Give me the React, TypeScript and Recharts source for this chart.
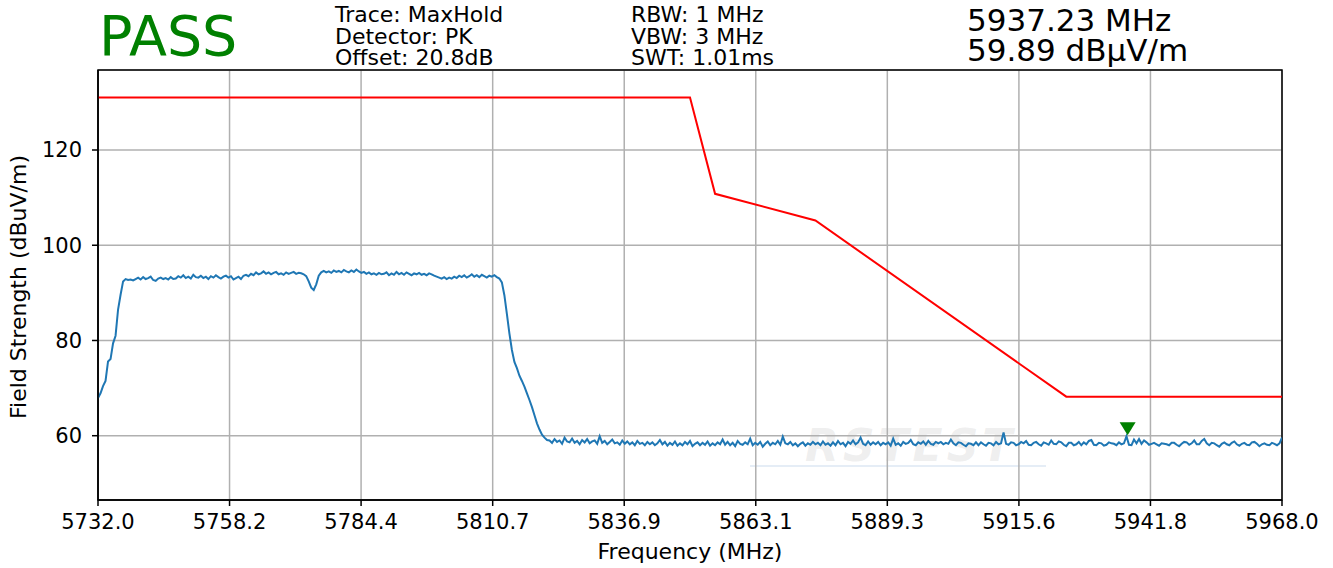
import React from 'react';
import { LineChart, Line, XAxis, YAxis, CartesianGrid, ReferenceArea, ReferenceDot } from 'recharts';

// sweep start / step of the analyser trace (MHz)
const SWEEP_START = 5732;
const SWEEP_STEP = 0.5;

// measured level, one value per sweep point (dBuV/m)
const traceLevels = [
    // rise
    67.9, 68.9, 70.4, 71.5, 75.6, 76.1, 79.4, 81.0, 86.5, 89.6, 92.4,
    // in-band plateau
    92.9, 92.7, 92.8, 92.6, 92.9, 93.2, 92.8, 93.3, 92.9, 93.1,
    93.4, 92.7, 92.5, 93.0, 93.2, 92.9, 93.1, 92.8, 93.3, 92.9,
    93.0, 93.5, 93.2, 93.7, 93.1, 93.4, 93.0, 93.8, 93.3, 93.2,
    93.6, 93.1, 93.4, 92.9, 93.5, 93.2, 93.7, 93.3, 93.0, 93.4,
    93.6, 93.2, 93.5, 92.8, 93.1, 93.4, 92.9, 93.6, 93.8, 93.5,
    94.0, 93.7, 94.3, 93.9, 94.1, 94.5, 94.0, 94.3, 93.9, 94.2,
    94.4, 93.9, 94.1, 93.8, 94.3, 94.0, 94.2, 94.4, 94.0, 94.2,
    94.1, 93.9, 93.5, 92.4, 91.1, 90.6, 91.8, 93.6, 94.3, 94.6,
    94.3, 94.5, 94.2, 94.7, 94.4, 94.6, 94.3, 94.8, 94.5, 94.3,
    94.7, 94.4, 94.9, 94.5, 94.2, 94.4, 94.0, 94.3, 93.9, 94.1,
    93.8, 94.2, 93.9, 94.0, 94.3, 93.7, 94.1, 93.8, 94.4, 93.9,
    94.2, 93.8, 94.3, 94.0, 93.7, 94.1, 93.9, 94.2, 93.8, 94.0,
    93.7, 94.1, 93.9, 93.6, 93.4, 93.2, 93.0, 93.3, 92.9, 93.2,
    93.0, 93.4, 93.1, 93.6, 93.3, 93.7, 93.2, 93.5, 93.9, 93.4,
    93.7, 93.3, 93.8, 93.5, 93.2, 93.6, 93.4, 93.7, 93.3,
    // band edge roll-off
    93.0, 92.2, 89.5, 85.6, 81.5, 78.0, 75.5, 74.2, 72.6, 71.5,
    70.3, 68.9, 67.5, 66.0, 64.3, 62.6, 61.3, 60.2, 59.6, 59.1, 59.0,
    // noise floor
    58.5, 59.3, 58.7, 59.0, 58.3, 59.6, 58.8, 58.6, 59.4, 58.5,
    58.9, 58.2, 59.1, 58.6, 59.3, 58.4, 58.8, 59.0, 58.3, 59.9,
    58.5, 58.9, 58.2, 58.7, 59.2, 58.4, 58.6, 58.1, 59.0, 58.3,
    58.8, 58.2, 58.6, 58.0, 58.9, 58.3, 58.5, 58.0, 58.7, 58.2,
    58.6, 58.0, 58.4, 59.1, 58.2, 58.7, 57.9, 58.5, 58.1, 58.8,
    57.9, 58.4, 58.0, 58.7, 58.2, 58.9, 57.8, 58.3, 58.6, 58.0,
    58.5, 58.1, 58.8, 57.9, 58.4, 58.0, 58.6, 58.2, 59.2, 58.1,
    58.7, 58.0, 58.5, 57.8, 58.9, 58.3, 58.1, 58.6, 58.2, 59.4,
    58.0, 58.5, 58.1, 58.7, 57.7, 58.3, 58.8, 58.0, 58.5, 58.2,
    58.9, 58.1, 59.8, 58.4, 58.2, 58.7, 58.0, 58.4, 57.8, 58.3,
    58.6, 57.9, 58.4, 58.1, 58.7, 58.2, 58.5, 58.0, 58.8, 58.1,
    58.4, 57.9, 58.6, 58.0, 58.9, 58.2, 58.5, 57.8, 58.7, 58.3,
    59.0, 58.2, 58.6, 59.6, 58.3, 58.0, 58.8, 58.1, 58.6, 58.2,
    58.7, 58.0, 58.5, 58.2, 58.6, 57.9, 59.4, 58.1, 58.4, 57.9,
    58.7, 58.3, 58.5, 59.1, 58.2, 58.0, 58.6, 58.3, 58.8, 58.1,
    58.9, 58.3, 58.1, 58.7, 58.4, 58.7, 58.2, 58.5, 58.3, 59.2,
    58.4, 58.0, 58.6, 58.5, 58.1, 57.8, 58.4, 58.3, 58.0, 58.6,
    58.0, 58.6, 58.2, 57.9, 58.5, 58.4, 58.0, 58.7, 58.2, 58.4,
    60.7, 58.3, 58.1, 58.6, 58.5, 58.0, 58.2, 58.7, 58.4, 58.9,
    58.1, 58.0, 58.5, 58.7, 58.2, 57.9, 58.6, 58.4, 58.1, 59.0,
    58.3, 58.2, 58.8, 58.6, 58.1, 57.8, 58.5, 58.5, 58.0, 58.2,
    58.7, 58.0, 58.6, 58.2, 58.9, 59.1, 58.1, 58.0, 58.5, 58.4,
    57.9, 58.1, 58.6, 58.4, 58.3, 58.0, 58.6, 58.2, 58.4, 59.9,
    58.1, 58.0, 59.2, 58.4, 59.3, 58.3, 59.0, 58.6, 58.1, 58.3,
    58.5, 58.2, 57.9, 58.4, 58.3, 58.2, 58.0, 58.5, 58.5, 58.1,
    57.8, 58.3, 58.7, 58.6, 58.1, 58.4, 59.0, 58.2, 58.2, 58.9,
    59.3, 58.4, 58.0, 58.5, 58.4, 58.0, 57.7, 58.3, 58.6, 58.2,
    58.0, 58.5, 58.8, 58.2, 57.9, 58.3, 58.5, 58.1, 58.0, 58.6,
    58.7, 58.3, 57.8, 58.2, 58.4, 58.1, 58.0, 58.5, 58.3, 58.0,
    58.4, 59.6,
];

// limit line corners
const limitFreqs = [5732, 5850, 5855, 5875, 5925, 5968];
const limitLevels = [131.0, 131.0, 110.8, 105.2, 68.2, 68.2];

const xTicks = [5732, 5758.22, 5784.44, 5810.67, 5836.89, 5863.11, 5889.33, 5915.56, 5941.78, 5968];
const yTicks = [60, 80, 100, 120];
const X_DOMAIN = [5732, 5968];
const Y_DOMAIN = [46.5, 136.8];

const markerFreq = 5937.23;
const markerLevel = 59.89;

const traceLines = ['Trace: MaxHold', 'Detector: PK', 'Offset: 20.8dB'];
const bwLines = ['RBW: 1 MHz', 'VBW: 3 MHz', 'SWT: 1.01ms'];

const traceData = traceLevels.map((v, i) => ({ f: SWEEP_START + i * SWEEP_STEP, v }));
const limitData = limitFreqs.map((f, i) => ({ f, v: limitLevels[i] }));

const FONT = '"DejaVu Sans", sans-serif';

const MarkerShape = (props: any) => {
    const { cx, cy } = props;
    return <polygon points={`${cx - 8},${cy - 14} ${cx + 8},${cy - 14} ${cx},${cy - 1}`} fill="#008000" />;
};

const textBlock = (left: number, top: number, size: number, lh: number): React.CSSProperties => ({
    position: 'absolute', left, top, fontSize: size, lineHeight: `${lh}px`, fontFamily: FONT, color: '#000', whiteSpace: 'pre',
});

export default function App() {
    return (
        <div style={{ position: 'absolute', left: 0, top: 0, width: 1333, height: 568, background: '#fff', overflow: 'hidden' }}>
            {/* faint watermark under the plot */}
            <div style={{ position: 'absolute', left: 805, top: 420, fontFamily: FONT, fontSize: 44, fontWeight: 'bold', fontStyle: 'italic', color: 'rgba(200,200,200,0.3)', letterSpacing: 4 }}>RSTEST</div>
            <div style={{ position: 'absolute', left: 750, top: 465, width: 296, height: 2, background: 'rgba(170,195,225,0.3)' }} />

            <div style={{ position: 'absolute', left: 0, top: 0 }}>
                <LineChart width={1333} height={568} data={traceData} margin={{ top: 70, right: 51, bottom: 0, left: 0 }}>
                    <CartesianGrid stroke="#b0b0b0" strokeWidth={1.5} />
                    <XAxis dataKey="f" type="number" domain={X_DOMAIN} ticks={xTicks} allowDataOverflow
                        tickFormatter={(t: number) => t.toFixed(1)} height={68} tickSize={6} tickMargin={8}
                        stroke="#000" strokeWidth={1.5} tick={{ fill: '#000', fontSize: 21, fontFamily: FONT }} />
                    <YAxis type="number" domain={Y_DOMAIN} ticks={yTicks} allowDataOverflow width={98} tickSize={6} tickMargin={10}
                        stroke="#000" strokeWidth={1.5} tick={{ fill: '#000', fontSize: 21, fontFamily: FONT }} />
                    <Line data={traceData} dataKey="v" stroke="#1f77b4" strokeWidth={2} dot={false} isAnimationActive={false} />
                    <Line data={limitData} dataKey="v" stroke="#ff0000" strokeWidth={2} dot={false} isAnimationActive={false} />
                    <ReferenceArea x1={X_DOMAIN[0]} x2={X_DOMAIN[1]} y1={Y_DOMAIN[0]} y2={Y_DOMAIN[1]} fill="none" fillOpacity={0} stroke="#000" strokeWidth={1.5} />
                    <ReferenceDot x={markerFreq} y={markerLevel} shape={MarkerShape} />
                </LineChart>
            </div>

            <div style={{ position: 'absolute', left: 99, top: 9, fontFamily: FONT, fontSize: 55.5, lineHeight: '54px', color: '#008000' }}>PASS</div>
            <div style={textBlock(335, 4, 22, 21.5)}>{traceLines.join('\n')}</div>
            <div style={textBlock(631, 4, 22, 21.5)}>{bwLines.join('\n')}</div>
            <div style={textBlock(967, 5, 31, 30)}>{`${markerFreq.toFixed(2)} MHz\n${markerLevel.toFixed(2)} dBµV/m`}</div>

            <div style={{ position: 'absolute', left: 690, top: 551, transform: 'translate(-50%, -50%)', fontFamily: FONT, fontSize: 22, whiteSpace: 'nowrap' }}>Frequency (MHz)</div>
            <div style={{ position: 'absolute', left: 18, top: 287, transform: 'translate(-50%, -50%) rotate(-90deg)', fontFamily: FONT, fontSize: 22, whiteSpace: 'nowrap' }}>Field Strength (dBuV/m)</div>
        </div>
    );
}
